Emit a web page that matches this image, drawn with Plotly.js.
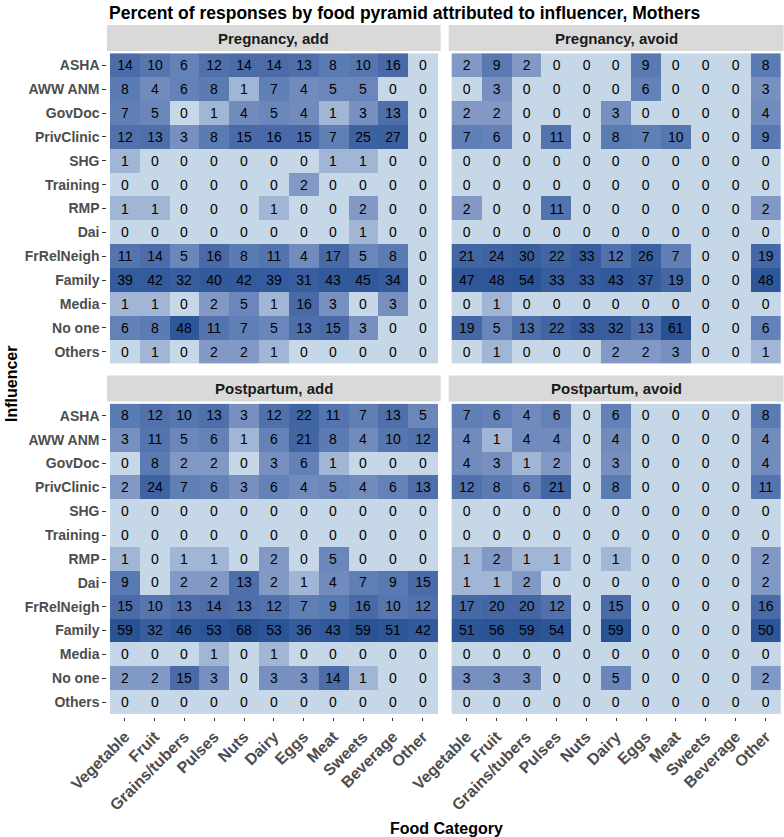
<!DOCTYPE html>
<html>
<head>
<meta charset="utf-8">
<script src="https://cdn.plot.ly/plotly-3.0.1.min.js"></script>
<style>html,body{margin:0;padding:0;background:#fff;}#chart{width:784px;height:837px;}</style>
</head>
<body>
<div id="chart"></div>
<script>
const influencers = ["ASHA","AWW ANM","GovDoc","PrivClinic","SHG","Training","RMP","Dai","FrRelNeigh","Family","Media","No one","Others"];
const foods = ["Vegetable","Fruit","Grains/tubers","Pulses","Nuts","Dairy","Eggs","Meat","Sweets","Beverage","Other"];
const panelTitles = ["Pregnancy, add","Pregnancy, avoid","Postpartum, add","Postpartum, avoid"];

const pregnancyAdd = [
  [14,10,6,12,14,14,13,8,10,16,0],
  [8,4,6,8,1,7,4,5,5,0,0],
  [7,5,0,1,4,5,4,1,3,13,0],
  [12,13,3,8,15,16,15,7,25,27,0],
  [1,0,0,0,0,0,0,1,1,0,0],
  [0,0,0,0,0,0,2,0,0,0,0],
  [1,1,0,0,0,1,0,0,2,0,0],
  [0,0,0,0,0,0,0,0,1,0,0],
  [11,14,5,16,8,11,4,17,5,8,0],
  [39,42,32,40,42,39,31,43,45,34,0],
  [1,1,0,2,5,1,16,3,0,3,0],
  [6,8,48,11,7,5,13,15,3,0,0],
  [0,1,0,2,2,1,0,0,0,0,0]
];
const pregnancyAvoid = [
  [2,9,2,0,0,0,9,0,0,0,8],
  [0,3,0,0,0,0,6,0,0,0,3],
  [2,2,0,0,0,3,0,0,0,0,4],
  [7,6,0,11,0,8,7,10,0,0,9],
  [0,0,0,0,0,0,0,0,0,0,0],
  [0,0,0,0,0,0,0,0,0,0,0],
  [2,0,0,11,0,0,0,0,0,0,2],
  [0,0,0,0,0,0,0,0,0,0,0],
  [21,24,30,22,33,12,26,7,0,0,19],
  [47,48,54,33,33,43,37,19,0,0,48],
  [0,1,0,0,0,0,0,0,0,0,0],
  [19,5,13,22,33,32,13,61,0,0,6],
  [0,1,0,0,0,2,2,3,0,0,1]
];
const postpartumAdd = [
  [8,12,10,13,3,12,22,11,7,13,5],
  [3,11,5,6,1,6,21,8,4,10,12],
  [0,8,2,2,0,3,6,1,0,0,0],
  [2,24,7,6,3,6,4,5,4,6,13],
  [0,0,0,0,0,0,0,0,0,0,0],
  [0,0,0,0,0,0,0,0,0,0,0],
  [1,0,1,1,0,2,0,5,0,0,0],
  [9,0,2,2,13,2,1,4,7,9,15],
  [15,10,13,14,13,12,7,9,16,10,12],
  [59,32,46,53,68,53,36,43,59,51,42],
  [0,0,0,1,0,1,0,0,0,0,0],
  [2,2,15,3,0,3,3,14,1,0,0],
  [0,0,0,0,0,0,0,0,0,0,0]
];
const postpartumAvoid = [
  [7,6,4,6,0,6,0,0,0,0,8],
  [4,1,4,4,0,4,0,0,0,0,4],
  [4,3,1,2,0,3,0,0,0,0,4],
  [12,8,6,21,0,8,0,0,0,0,11],
  [0,0,0,0,0,0,0,0,0,0,0],
  [0,0,0,0,0,0,0,0,0,0,0],
  [1,2,1,1,0,1,0,0,0,0,2],
  [1,1,2,0,0,0,0,0,0,0,2],
  [17,20,20,12,0,15,0,0,0,0,16],
  [51,56,59,54,0,59,0,0,0,0,50],
  [0,0,0,0,0,0,0,0,0,0,0],
  [3,3,3,0,0,5,0,0,0,0,2],
  [0,0,0,0,0,0,0,0,0,0,0]
];
const panels = [pregnancyAdd, pregnancyAvoid, postpartumAdd, postpartumAvoid];

const W = 784, H = 837;
const FONT = "Liberation Sans, Arial, Helvetica, sans-serif";
const zmax = 68;
const colorscale = [
  [0, "#c6d7e7"],
  [1/68, "#a1b5d5"],
  [2/68, "#8299c6"],
  [3/68, "#7790c0"],
  [5/68, "#6a86ba"],
  [8/68, "#5b7bb3"],
  [14/68, "#4b6ca8"],
  [27/68, "#3b60a0"],
  [48/68, "#2e579a"],
  [1, "#27508f"]
];

// panel pixel boxes [left, right, top, bottom] (panel area incl. small expansion)
const boxes = [
  [107, 440.6, 51, 366],
  [448.7, 783.6, 51, 366],
  [107, 440.6, 401.5, 716.5],
  [448.7, 783.6, 401.5, 716.5]
];
const px = v => v / W;
const py = v => 1 - v / H;

const traces = panels.map((z, i) => ({
  type: "heatmap",
  z: z,
  x: foods,
  y: influencers,
  xaxis: i === 0 ? "x" : "x" + (i + 1),
  yaxis: i === 0 ? "y" : "y" + (i + 1),
  zmin: 0, zmax: zmax,
  colorscale: colorscale,
  showscale: false,
  texttemplate: "%{z}",
  textfont: {family: FONT, size: 14, color: "#000"},
  hoverinfo: "skip"
}));

const layout = {
  width: W, height: H,
  margin: {l: 0, r: 0, t: 0, b: 0},
  paper_bgcolor: "#fff",
  plot_bgcolor: "#fff",
  showlegend: false,
  font: {family: FONT},
  shapes: [],
  annotations: []
};

boxes.forEach((b, i) => {
  const s = i === 0 ? "" : String(i + 1);
  const bottomRow = i >= 2, leftCol = i % 2 === 0;
  layout["xaxis" + s] = {
    domain: [px(b[0]), px(b[1])],
    anchor: "y" + s,
    type: "category",
    categoryorder: "array", categoryarray: foods,
    range: [-0.6, foods.length - 0.4],
    showticklabels: bottomRow,
    ticks: bottomRow ? "outside" : "",
    ticklen: 3.7, tickwidth: 1, tickcolor: "#333",
    tickangle: -45,
    tickfont: {family: FONT, size: 16, color: "#4d4d4d", weight: "bold"},
    showgrid: false, zeroline: false, showline: false, fixedrange: true
  };
  layout["yaxis" + s] = {
    domain: [py(b[3]), py(b[2])],
    anchor: "x" + s,
    type: "category",
    categoryorder: "array", categoryarray: influencers,
    range: [influencers.length - 0.4, -0.6],
    showticklabels: leftCol,
    ticks: leftCol ? "outside" : "",
    ticklen: 3.7, tickwidth: 1, tickcolor: "#333",
    tickfont: {family: FONT, size: 14, color: "#4d4d4d", weight: "bold"},
    showgrid: false, zeroline: false, showline: false, fixedrange: true
  };
  // strip
  const stripTop = b[2] - 26, stripBot = b[2];
  layout.shapes.push({
    type: "rect", xref: "paper", yref: "paper",
    x0: px(b[0]), x1: px(b[1]), y0: py(stripBot), y1: py(stripTop),
    fillcolor: "#d9d9d9", line: {width: 0}, layer: "below"
  });
  layout.annotations.push({
    xref: "paper", yref: "paper",
    x: px((b[0] + b[1]) / 2), y: py((stripTop + stripBot) / 2),
    text: "<b>" + panelTitles[i] + "</b>", showarrow: false,
    xanchor: "center", yanchor: "middle",
    font: {family: FONT, size: 15, color: "#1a1a1a"}
  });
});

layout.annotations.push({
  xref: "paper", yref: "paper", x: px(107), y: py(13),
  text: "<b>Percent of responses by food pyramid attributed to influencer, Mothers</b>",
  showarrow: false, xanchor: "left", yanchor: "middle",
  font: {family: FONT, size: 17.5, color: "#000"}
});
layout.annotations.push({
  xref: "paper", yref: "paper", x: px(446), y: py(828),
  text: "<b>Food Category</b>", showarrow: false, xanchor: "center", yanchor: "middle",
  font: {family: FONT, size: 16, color: "#000"}
});
layout.annotations.push({
  xref: "paper", yref: "paper", x: px(11), y: py(384),
  text: "<b>Influencer</b>", showarrow: false, textangle: -90,
  xanchor: "center", yanchor: "middle",
  font: {family: FONT, size: 16, color: "#000"}
});

Plotly.newPlot("chart", traces, layout, {displayModeBar: false, staticPlot: true});
</script>
</body>
</html>
